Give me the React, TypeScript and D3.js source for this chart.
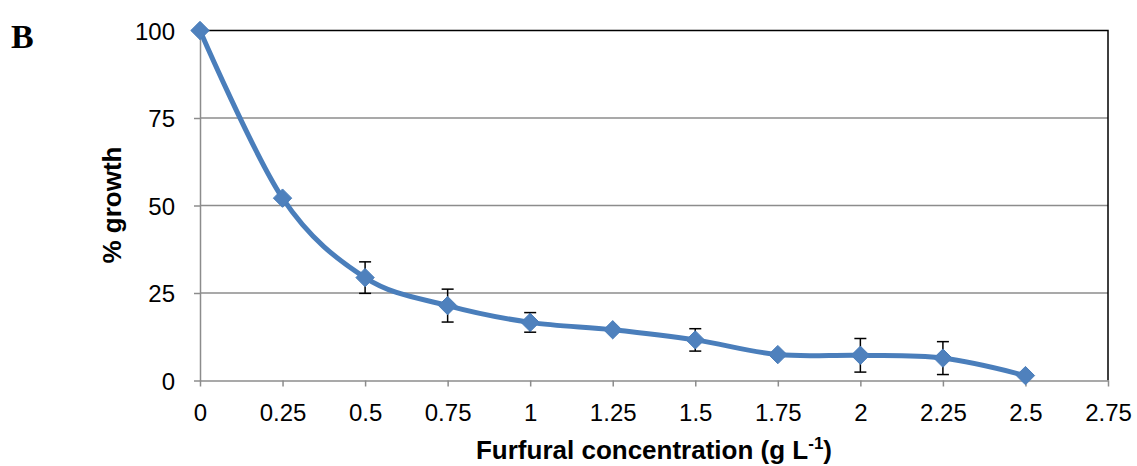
import { useEffect, useRef } from 'react';
import * as d3 from 'd3';

// furfural concentration (g/L)
const conc = [0, 0.25, 0.5, 0.75, 1, 1.25, 1.5, 1.75, 2, 2.25, 2.5];
// % growth
const growth = [100, 52.1, 29.4, 21.4, 16.6, 14.5, 11.6, 7.4, 7.2, 6.4, 1.4];
// error bar half-heights (0 = none drawn)
const errs = [0, 0, 4.5, 4.7, 2.8, 0, 3.2, 0, 4.8, 4.7, 0];

const xTicks = [0, 0.25, 0.5, 0.75, 1, 1.25, 1.5, 1.75, 2, 2.25, 2.5, 2.75];
const yTicks = [0, 25, 50, 75, 100];

const W = 1137;
const H = 466;
const left = 200;
const right = 1108;
const top = 30.5;
const bottom = 380.5;

export default function App() {
  const svgRef = useRef<SVGSVGElement>(null);

  useEffect(() => {
    const svg = d3.select(svgRef.current);
    svg.selectAll('*').remove();

    const x = d3.scaleLinear().domain([0, 2.75]).range([left, right]);
    const y = d3.scaleLinear().domain([0, 100]).range([bottom, top]);
    const font = 'Liberation Sans, Arial, sans-serif';

    // grid lines
    svg
      .append('g')
      .selectAll('line')
      .data(yTicks.filter((t) => t > 0 && t < 100))
      .join('line')
      .attr('x1', left)
      .attr('x2', right)
      .attr('y1', (d) => y(d))
      .attr('y2', (d) => y(d))
      .attr('stroke', '#8c8c8c')
      .attr('stroke-width', 1.5);

    // plot area border (top/right black)
    svg
      .append('path')
      .attr('d', `M${left},${top}H${right}V${bottom}`)
      .attr('fill', 'none')
      .attr('stroke', '#000')
      .attr('stroke-width', 1.5);

    // axes
    const xAxis = d3
      .axisBottom(x)
      .tickValues(xTicks)
      .tickSize(6)
      .tickSizeOuter(0)
      .tickPadding(17)
      .tickFormat((d) => String(d));
    const gx = svg.append('g').attr('transform', `translate(0,${bottom})`).call(xAxis);

    const yAxis = d3
      .axisLeft(y)
      .tickValues(yTicks)
      .tickSize(6)
      .tickSizeOuter(0)
      .tickPadding(19)
      .tickFormat((d) => String(d));
    const gy = svg.append('g').attr('transform', `translate(${left},0)`).call(yAxis);

    [gx, gy].forEach((g) => {
      g.selectAll('path, line').attr('stroke', '#8c8c8c').attr('stroke-width', 1.5);
      g.selectAll('text')
        .attr('fill', '#000')
        .style('font-family', font)
        .style('font-size', '24px');
    });
    gy.selectAll('text').attr('dy', '0.36em');

    // smoothed line
    const pts = conc.map((c, i) => [c, growth[i]] as [number, number]);
    const ln = d3
      .line<[number, number]>()
      .x((d) => x(d[0]))
      .y((d) => y(d[1]))
      .curve(d3.curveCardinal.tension(0));
    svg
      .append('path')
      .datum(pts)
      .attr('d', ln)
      .attr('fill', 'none')
      .attr('stroke', '#4a7ebb')
      .attr('stroke-width', 5);

    // error bars
    const eb = svg
      .append('g')
      .selectAll('g')
      .data(conc.map((c, i) => ({ c, v: growth[i], e: errs[i] })).filter((d) => d.e > 0))
      .join('g')
      .attr('stroke', '#000')
      .attr('stroke-width', 1.5);
    eb.append('line')
      .attr('x1', (d) => x(d.c))
      .attr('x2', (d) => x(d.c))
      .attr('y1', (d) => y(d.v + d.e))
      .attr('y2', (d) => y(d.v - d.e));
    eb.append('line')
      .attr('x1', (d) => x(d.c) - 6)
      .attr('x2', (d) => x(d.c) + 6)
      .attr('y1', (d) => y(d.v + d.e))
      .attr('y2', (d) => y(d.v + d.e));
    eb.append('line')
      .attr('x1', (d) => x(d.c) - 6)
      .attr('x2', (d) => x(d.c) + 6)
      .attr('y1', (d) => y(d.v - d.e))
      .attr('y2', (d) => y(d.v - d.e));

    // diamond markers
    svg
      .append('g')
      .selectAll('path')
      .data(pts)
      .join('path')
      .attr('transform', (d) => `translate(${x(d[0])},${y(d[1])})`)
      .attr('d', d3.symbol(d3.symbolDiamond2, 215)())
      .attr('fill', '#4f81bd')
      .attr('stroke', '#4a7ebb')
      .attr('stroke-width', 1);

    // titles
    svg
      .append('text')
      .attr('x', 654)
      .attr('y', 459)
      .attr('text-anchor', 'middle')
      .style('font-family', font)
      .style('font-size', '26px')
      .style('font-weight', 'bold')
      .call((t) => {
        t.append('tspan').text('Furfural concentration (g L');
        t.append('tspan').attr('dy', -10).style('font-size', '17px').text('-1');
        t.append('tspan').attr('dy', 10).text(')');
      });

    svg
      .append('text')
      .attr('transform', `translate(121,205) rotate(-90)`)
      .attr('text-anchor', 'middle')
      .style('font-family', font)
      .style('font-size', '26px')
      .style('font-weight', 'bold')
      .text('% growth');

    svg
      .append('text')
      .attr('x', 11)
      .attr('y', 48)
      .style('font-family', 'Liberation Serif, Times New Roman, serif')
      .style('font-size', '34px')
      .style('font-weight', 'bold')
      .text('B');
  }, []);

  return (
    <svg
      ref={svgRef}
      width={W}
      height={H}
      style={{ position: 'absolute', left: 0, top: 0, background: '#fff' }}
    />
  );
}
